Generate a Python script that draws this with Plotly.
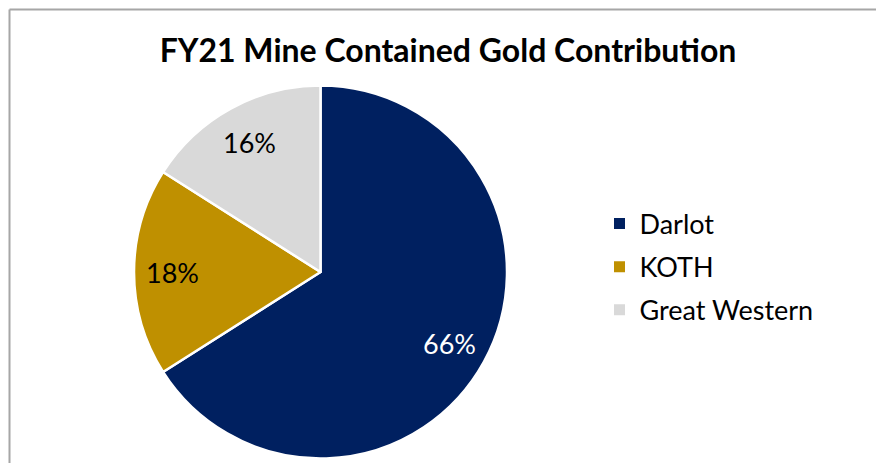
import math
import plotly.graph_objects as go

labels = ["Darlot", "KOTH", "Great Western"]
values = [66, 18, 16]
colors = ["#002060", "#BF9000", "#D9D9D9"]
text_colors = ["#FFFFFF", "#000000", "#000000"]
title_text = "FY21 Mine Contained Gold Contribution"

W, H = 876, 463
FONT = "Lato"
CX, CY = 320.5, 272.0          # pie centre in pixels
R_DOMAIN = 186.5               # domain half-size (pie draws ~2px inside)
LABEL_R = 0.80 * 184.5

fig = go.Figure()
fig.add_trace(go.Pie(
    labels=labels,
    values=values,
    sort=False,
    direction="clockwise",
    rotation=0,
    marker=dict(colors=colors, line=dict(color="#FFFFFF", width=2.5)),
    textinfo="none",
    showlegend=False,
    domain=dict(x=[(CX - R_DOMAIN) / W, (CX + R_DOMAIN) / W],
                y=[max(0.0, 1 - (CY + R_DOMAIN) / H), 1 - (CY - R_DOMAIN) / H]),
    hoverinfo="label+percent",
))

# legend entries (one group each, so the row gap can be set)
for i, (lab, col) in enumerate(zip(labels, colors)):
    fig.add_trace(go.Scatter(
        x=[None], y=[None], mode="markers", name=lab,
        marker=dict(symbol="square", size=11, color=col),
        legendgroup=f"g{i}", showlegend=True, hoverinfo="skip",
    ))

total = sum(values)
cum = 0.0
annotations = []
for v, tc in zip(values, text_colors):
    mid = (cum + v / 2) / total
    cum += v
    th = 2 * math.pi * mid
    px = CX + LABEL_R * math.sin(th)
    py = CY - LABEL_R * math.cos(th)
    annotations.append(dict(
        x=px / W, y=1 - py / H, xref="paper", yref="paper",
        text=f"{v / total * 100:.0f}%", showarrow=False,
        xanchor="center", yanchor="middle",
        font=dict(family=FONT, size=27, color=tc),
    ))

fig.update_layout(
    width=W, height=H,
    margin=dict(l=0, r=0, t=0, b=0),
    paper_bgcolor="#FFFFFF",
    plot_bgcolor="#FFFFFF",
    font=dict(family=FONT, color="#000000"),
    title=dict(text="<b>" + title_text + "</b>", x=448 / W, xanchor="center",
               y=1 - 51 / H, yanchor="middle", font=dict(family=FONT, size=32, color="#000000")),
    xaxis=dict(visible=False),
    yaxis=dict(visible=False),
    showlegend=True,
    legend=dict(x=599.5 / W, xanchor="left", y=1 - 267 / H, yanchor="middle",
                font=dict(family=FONT, size=27, color="#000000"),
                bgcolor="rgba(0,0,0,0)", itemwidth=30, tracegroupgap=5,
                traceorder="grouped"),
    annotations=annotations,
    shapes=[
        dict(type="line", xref="paper", yref="paper", x0=9.5 / W, x1=1.0, y0=1 - 9.5 / H, y1=1 - 9.5 / H,
             line=dict(color="#A6A6A6", width=2)),
        dict(type="line", xref="paper", yref="paper", x0=9.5 / W, x1=9.5 / W, y0=0, y1=1 - 9.5 / H,
             line=dict(color="#A6A6A6", width=2)),
    ],
)

# remove the page's default body margin and scrollbars so the figure fills the window
page_css = ("document.body.style.margin='0px';"
            "document.documentElement.style.overflow='hidden';"
            "document.body.style.overflow='hidden';")
fig.write_html("out.html", post_script=page_css, config={"displayModeBar": False})
